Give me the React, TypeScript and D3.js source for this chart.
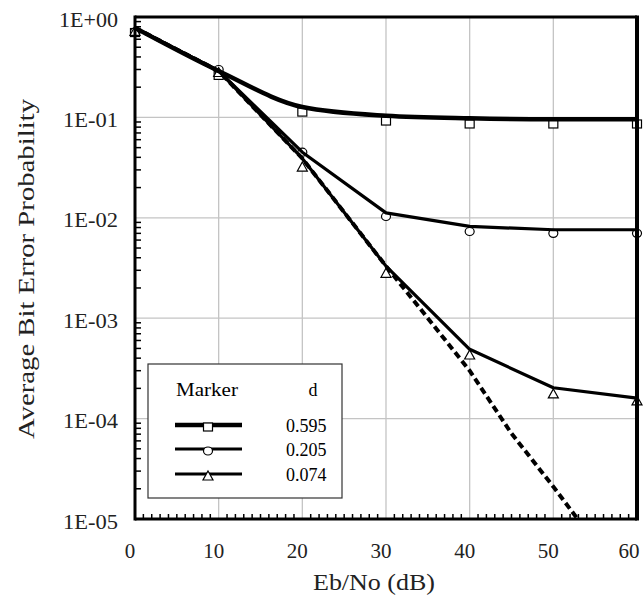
import React from "react";
import * as d3 from "d3";

const xTicks = [0, 10, 20, 30, 40, 50, 60];
const yTickLabels = ["1E+00", "1E-01", "1E-02", "1E-03", "1E-04", "1E-05"];
const yTickValues = [1, 0.1, 0.01, 0.001, 0.0001, 0.00001];

const markerX = [0, 10, 20, 30, 40, 50, 60];
const squareMarkers = [0.7, 0.262, 0.113, 0.092, 0.086, 0.086, 0.086];
const circleMarkers = [0.71, 0.3, 0.045, 0.0103, 0.0073, 0.007, 0.007];
const triangleMarkers = [0.72, 0.28, 0.032, 0.0028, 0.00043, 0.000176, 0.00015];

const lineX = [0, 10, 20, 30, 40, 50, 60];
const squareLine = [0.78, 0.29, 0.127, 0.104, 0.098, 0.096, 0.096];
const circleLine = [0.78, 0.29, 0.045, 0.0112, 0.0082, 0.0076, 0.0076];
const triangleLine = [0.78, 0.29, 0.039, 0.0033, 0.00049, 0.000203, 0.00016];

const dashedX = [0, 10, 20, 30, 35, 40, 45, 50, 52.9];
const dashedLine = [0.78, 0.29, 0.039, 0.0033, 0.001, 0.0003, 0.000071, 0.000021, 0.00001];

const legendMarkers = ["square", "circle", "triangle"];
const legendD = ["0.595", "0.205", "0.074"];

const FONT = "'Liberation Serif', 'Times New Roman', serif";

function Marker({ type, x, y }: { type: string; x: number; y: number }) {
  const st = { fill: "#fff", stroke: "#000", strokeWidth: 1.2 };
  if (type === "square") return <rect x={x - 4.5} y={y - 4} width={9} height={8} {...st} />;
  if (type === "circle") return <ellipse cx={x} cy={y} rx={4.5} ry={4} {...st} />;
  return <path d={`M${x},${y - 5}L${x + 5},${y + 4}L${x - 5},${y + 4}Z`} {...st} />;
}

export default function App() {
  const W = 644, H = 605;
  const L = 135, R = 637, T = 17, B = 519;
  const x = d3.scaleLinear().domain([0, 60]).range([L, R]);
  const y = d3.scaleLog().domain([1e-5, 1]).range([B, T]);

  const minorY: number[] = [];
  for (let e = -5; e < 0; e++) for (let m = 2; m <= 9; m++) minorY.push(m * Math.pow(10, e));
  const minorX = d3.range(1, 60).filter((v) => v % 10 !== 0);

  const lin = d3.line<[number, number]>().x((d) => x(d[0])).y((d) => y(d[1]));
  const smooth = d3.line<[number, number]>().x((d) => x(d[0])).y((d) => y(d[1])).curve(d3.curveMonotoneX);
  const zip = (xs: number[], ys: number[]) => xs.map((v, i) => [v, ys[i]] as [number, number]);

  const series = [
    { type: "square", m: squareMarkers },
    { type: "circle", m: circleMarkers },
    { type: "triangle", m: triangleMarkers },
  ];

  const lgX = 148, lgY = 364, lgW = 194, lgH = 134;
  const lgRows = [425, 449, 474];
  const lgWidths = [4.5, 3.2, 3.2];

  return (
    <svg width={W} height={H} style={{ display: "block", position: "absolute", left: 0, top: 0 }} fontFamily={FONT}>
      <rect width={W} height={H} fill="#fff" />
      {yTickValues.slice(1, 5).map((v) => (
        <line key={"gy" + v} x1={L} x2={R} y1={y(v)} y2={y(v)} stroke="#c4c4c4" strokeWidth={1.3} />
      ))}
      {xTicks.slice(1, 6).map((v) => (
        <line key={"gx" + v} x1={x(v)} x2={x(v)} y1={T} y2={B} stroke="#c4c4c4" strokeWidth={1.3} />
      ))}
      {minorY.map((v) => (
        <line key={"my" + v} x1={L} x2={L + 6} y1={y(v)} y2={y(v)} stroke="#000" strokeWidth={1.5} />
      ))}
      {minorX.map((v) => (
        <line key={"mx" + v} x1={x(v)} x2={x(v)} y1={B} y2={B - 5} stroke="#000" strokeWidth={1.5} />
      ))}
      {series.map((s) =>
        s.m.map((v, i) => <Marker key={s.type + i} type={s.type} x={x(markerX[i])} y={y(v)} />)
      )}
      <path d={lin(zip(dashedX, dashedLine)) || ""} fill="none" stroke="#000" strokeWidth={4} strokeDasharray="7,4" />
      <path d={lin(zip(lineX, triangleLine)) || ""} fill="none" stroke="#000" strokeWidth={3.2} strokeLinejoin="round" />
      <path d={lin(zip(lineX, circleLine)) || ""} fill="none" stroke="#000" strokeWidth={3.2} strokeLinejoin="round" />
      <path d={smooth(zip(lineX, squareLine)) || ""} fill="none" stroke="#000" strokeWidth={4.5} strokeLinejoin="round" />
      <line x1={L} x2={R} y1={T} y2={T} stroke="#000" strokeWidth={3} />
      <line x1={R} x2={R} y1={T - 1.5} y2={B + 1.5} stroke="#000" strokeWidth={4} />
      <line x1={L} x2={L} y1={T - 1.5} y2={B + 1.5} stroke="#000" strokeWidth={3} />
      <line x1={L} x2={R} y1={B} y2={B} stroke="#000" strokeWidth={3} />
      <rect x={lgX} y={lgY} width={lgW} height={lgH} fill="#fff" stroke="#333" strokeWidth={1.2} />
      <text x={207} y={396} fontSize={18} textAnchor="middle" textLength={62} lengthAdjust="spacingAndGlyphs">Marker</text>
      <text x={313} y={396} fontSize={18} textAnchor="middle">d</text>
      {legendMarkers.map((t, i) => (
        <g key={"lg" + t}>
          <line x1={175} x2={242} y1={lgRows[i]} y2={lgRows[i]} stroke="#000" strokeWidth={lgWidths[i]} />
          <Marker type={t} x={208} y={lgRows[i] + 2} />
          <text x={286} y={lgRows[i] + 7} fontSize={18}>{legendD[i]}</text>
        </g>
      ))}
      {yTickValues.map((v, i) => (
        <text key={"yl" + i} x={118} y={y(v) + 5} fontSize={20} textAnchor="end" dominantBaseline="middle" fill="#222"
          textLength={i === 0 ? 59 : 55} lengthAdjust="spacingAndGlyphs">
          {yTickLabels[i]}
        </text>
      ))}
      {xTicks.map((v, i) => (
        <text key={"xl" + v} x={x(v) - (i === xTicks.length - 1 ? 8 : 5)} y={553} fontSize={21} textAnchor="middle" dominantBaseline="middle" fill="#222">
          {v}
        </text>
      ))}
      <text x={374} y={584} fontSize={24} textAnchor="middle" dominantBaseline="middle" fill="#222"
        textLength={122} lengthAdjust="spacingAndGlyphs">Eb/No (dB)</text>
      <text transform="translate(29,269) rotate(-90)" fontSize={23} textAnchor="middle" dominantBaseline="middle" fill="#222"
        textLength={340} lengthAdjust="spacingAndGlyphs">
        Average Bit Error Probability
      </text>
    </svg>
  );
}
